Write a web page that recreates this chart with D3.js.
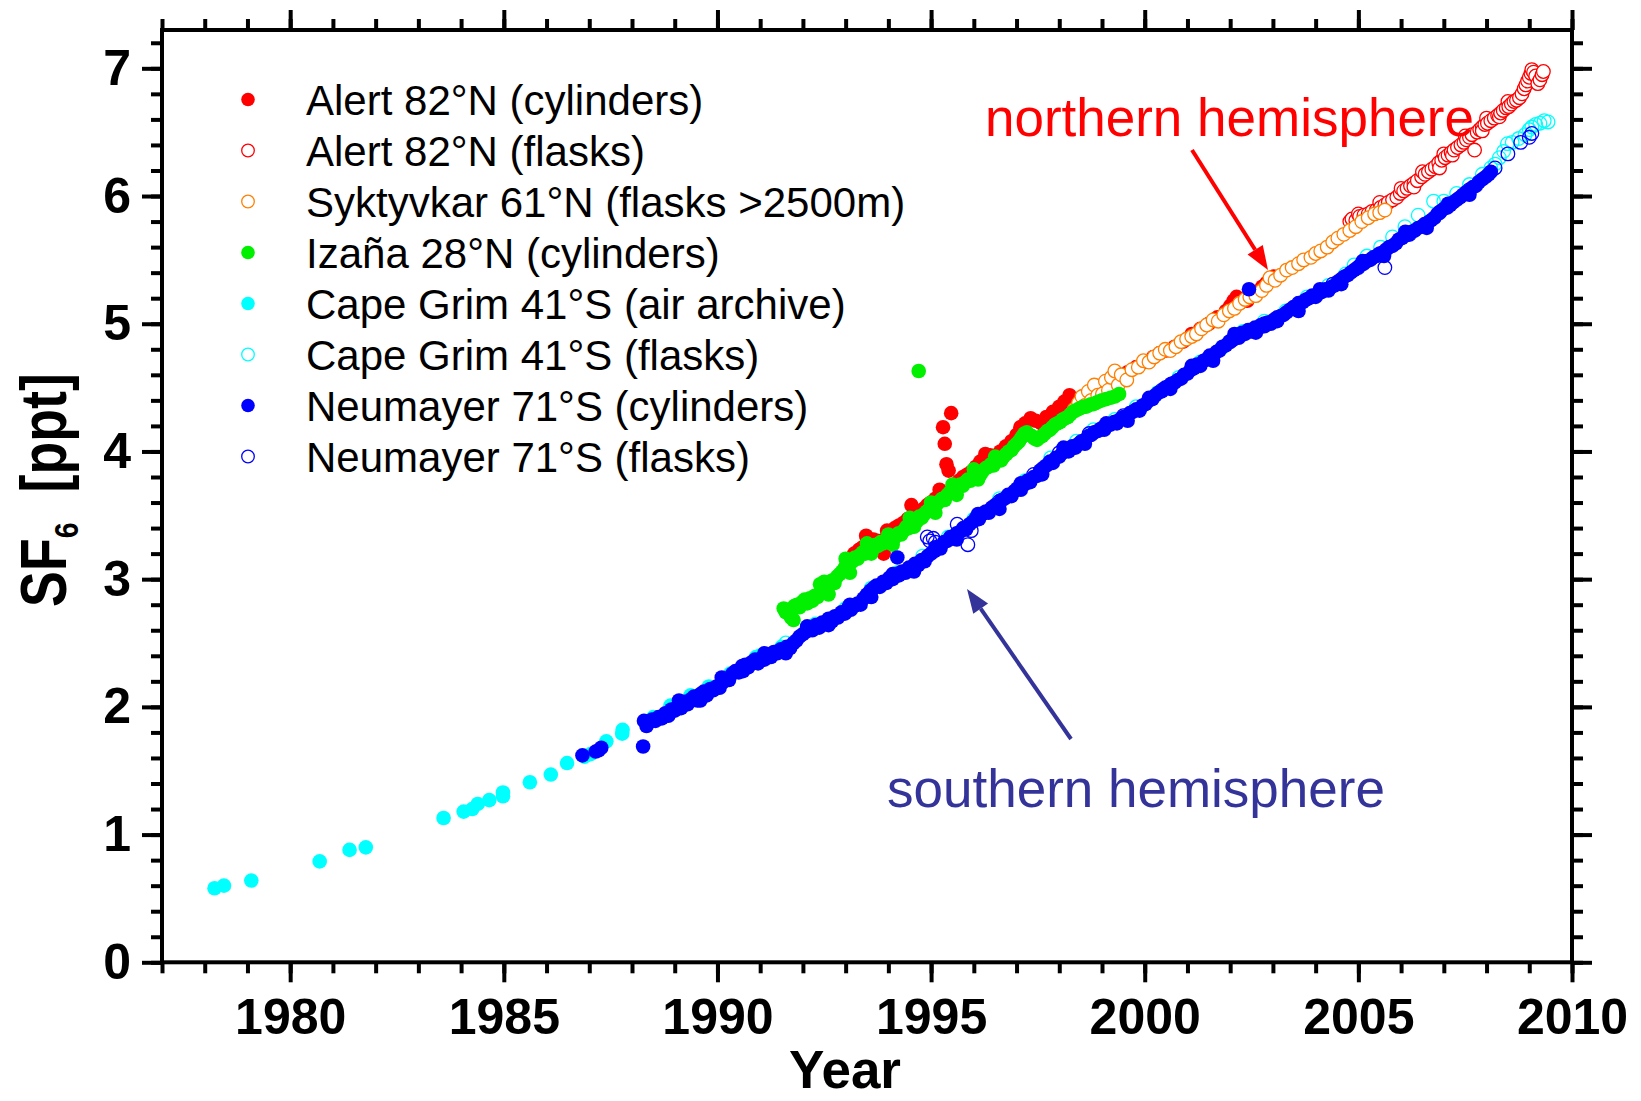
<!DOCTYPE html>
<html><head><meta charset="utf-8">
<script src="https://cdn.jsdelivr.net/npm/d3@7"></script>
<style>body{margin:0;background:#fff}svg{display:block}</style>
</head><body>
<svg id="chart" width="1641" height="1101"></svg>
<script>
// ---------------- DATA ([year, SF6 ppt]) ----------------
const alertCylinders = [[1993.20,3.20],[1993.31,3.23],[1993.40,3.25],[1993.48,3.34],[1993.56,3.28],[1993.65,3.31],[1993.75,3.30],[1993.89,3.20],[1993.97,3.38],[1994.05,3.36],[1994.15,3.40],[1994.25,3.42],[1994.35,3.44],[1994.45,3.47],[1994.54,3.58],[1994.62,3.50],[1994.72,3.53],[1994.82,3.55],[1994.91,3.58],[1995.00,3.60],[1995.10,3.63],[1995.20,3.70],[1995.28,4.19],[1995.32,4.06],[1995.36,3.90],[1995.41,3.85],[1995.47,4.30],[1995.55,3.74],[1995.65,3.77],[1995.75,3.80],[1995.85,3.82],[1995.94,3.84],[1996.05,3.88],[1996.15,3.92],[1996.27,3.98],[1996.38,3.97],[1996.50,3.96],[1996.62,4.00],[1996.75,4.04],[1996.88,4.08],[1997.00,4.13],[1997.09,4.19],[1997.20,4.22],[1997.33,4.26],[1997.45,4.24],[1997.58,4.22],[1997.70,4.27],[1997.85,4.31],[1998.00,4.35],[1998.12,4.39],[1998.24,4.44],[1998.40,4.40],[1998.55,4.43],[1998.70,4.46],[1998.85,4.49],[1999.00,4.52],[1999.20,4.55],[1999.40,4.58],[1999.60,4.62],[1999.80,4.66],[2000.00,4.70],[2000.20,4.74],[2000.35,4.77],[2000.50,4.79],[2000.70,4.82],[2000.90,4.86],[2001.10,4.92],[2001.30,4.96],[2001.50,5.00],[2001.70,5.05],[2001.90,5.10],[2002.00,5.14],[2002.08,5.18],[2002.15,5.21],[2002.22,5.16],[2002.30,5.19],[2002.40,5.18],[2002.50,5.22],[2002.62,5.25],[2002.75,5.29],[2002.85,5.32],[2002.93,5.34],[2003.02,5.37]];

const alertFlasks = [[2004.80,5.80],[2004.85,5.82],[2004.94,5.81],[2005.00,5.86],[2005.03,5.84],[2005.13,5.85],[2005.23,5.86],[2005.32,5.88],[2005.42,5.89],[2005.50,5.95],[2005.52,5.91],[2005.62,5.93],[2005.70,5.95],[2005.80,5.97],[2005.90,5.99],[2005.98,6.02],[2006.00,6.06],[2006.06,6.04],[2006.14,6.06],[2006.22,6.08],[2006.30,6.10],[2006.30,6.07],[2006.38,6.12],[2006.48,6.15],[2006.50,6.19],[2006.56,6.17],[2006.64,6.19],[2006.72,6.21],[2006.80,6.23],[2006.88,6.26],[2006.90,6.22],[2006.95,6.28],[2007.00,6.33],[2007.03,6.30],[2007.10,6.32],[2007.17,6.34],[2007.20,6.32],[2007.24,6.36],[2007.32,6.38],[2007.40,6.40],[2007.47,6.42],[2007.50,6.47],[2007.53,6.44],[2007.60,6.46],[2007.66,6.48],[2007.72,6.36],[2007.78,6.50],[2007.84,6.52],[2007.90,6.54],[2007.90,6.51],[2007.96,6.56],[2008.00,6.61],[2008.02,6.57],[2008.10,6.59],[2008.18,6.61],[2008.26,6.63],[2008.30,6.62],[2008.33,6.65],[2008.39,6.67],[2008.46,6.69],[2008.50,6.74],[2008.52,6.70],[2008.58,6.72],[2008.64,6.74],[2008.70,6.75],[2008.77,6.77],[2008.83,6.80],[2008.88,6.84],[2008.92,6.87],[2008.96,6.90],[2009.00,6.93],[2009.04,6.96],[2009.06,6.99],[2009.10,6.97],[2009.15,6.94],[2009.20,6.88],[2009.25,6.91],[2009.30,6.95],[2009.33,6.975]];

const syktyvkarFlasks = [[1998.35,4.33],[1998.45,4.38],[1998.53,4.43],[1998.60,4.36],[1998.68,4.47],[1998.75,4.40],[1998.82,4.52],[1998.90,4.44],[1999.01,4.45],[1999.08,4.55],[1999.15,4.48],[1999.22,4.58],[1999.30,4.63],[1999.38,4.52],[1999.45,4.60],[1999.58,4.56],[1999.70,4.64],[1999.85,4.66],[1999.97,4.71],[2000.10,4.70],[2000.22,4.74],[2000.35,4.77],[2000.48,4.80],[2000.60,4.79],[2000.73,4.82],[2000.85,4.86],[2000.98,4.88],[2001.10,4.90],[2001.21,4.92],[2001.33,4.96],[2001.45,4.99],[2001.60,5.03],[2001.72,5.02],[2001.85,5.07],[2001.98,5.10],[2002.10,5.12],[2002.22,5.16],[2002.35,5.19],[2002.46,5.21],[2002.60,5.22],[2002.74,5.26],[2002.85,5.30],[2002.93,5.36],[2003.05,5.34],[2003.18,5.38],[2003.32,5.42],[2003.45,5.44],[2003.60,5.47],[2003.72,5.50],[2003.89,5.52],[2004.00,5.55],[2004.12,5.57],[2004.27,5.60],[2004.40,5.64],[2004.52,5.67],[2004.66,5.70],[2004.80,5.73],[2004.94,5.76],[2005.08,5.80],[2005.23,5.83],[2005.38,5.86],[2005.50,5.87],[2005.62,5.89]];

const izanaCylinders = [[1991.55,2.77],[1991.60,2.74],[1991.66,2.76],[1991.72,2.70],[1991.78,2.68],[1991.80,2.79],[1991.86,2.80],[1991.92,2.78],[1991.98,2.82],[1992.04,2.84],[1992.10,2.81],[1992.16,2.85],[1992.22,2.83],[1992.28,2.87],[1992.34,2.86],[1992.40,2.96],[1992.44,2.93],[1992.50,2.90],[1992.50,2.98],[1992.56,2.92],[1992.60,2.88],[1992.62,2.95],[1992.68,2.99],[1992.74,2.97],[1992.80,3.02],[1992.86,3.04],[1992.92,3.06],[1992.98,3.09],[1993.00,3.16],[1993.04,3.08],[1993.10,3.05],[1993.10,3.12],[1993.16,3.14],[1993.22,3.17],[1993.28,3.16],[1993.34,3.19],[1993.40,3.21],[1993.46,3.20],[1993.50,3.28],[1993.52,3.23],[1993.58,3.25],[1993.60,3.20],[1993.64,3.24],[1993.70,3.27],[1993.76,3.26],[1993.82,3.29],[1993.88,3.28],[1993.94,3.30],[1994.00,3.29],[1994.00,3.35],[1994.06,3.32],[1994.10,3.27],[1994.12,3.31],[1994.18,3.34],[1994.24,3.36],[1994.30,3.35],[1994.36,3.38],[1994.42,3.41],[1994.48,3.40],[1994.50,3.48],[1994.54,3.44],[1994.60,3.46],[1994.60,3.41],[1994.66,3.45],[1994.71,4.63],[1994.72,3.49],[1994.78,3.48],[1994.84,3.51],[1994.90,3.53],[1994.96,3.55],[1995.00,3.60],[1995.02,3.54],[1995.08,3.57],[1995.10,3.52],[1995.14,3.59],[1995.20,3.61],[1995.26,3.63],[1995.32,3.62],[1995.38,3.66],[1995.44,3.68],[1995.50,3.70],[1995.50,3.74],[1995.56,3.69],[1995.60,3.66],[1995.62,3.72],[1995.68,3.74],[1995.74,3.73],[1995.80,3.76],[1995.86,3.78],[1995.92,3.77],[1995.98,3.80],[1996.00,3.86],[1996.04,3.81],[1996.10,3.83],[1996.10,3.78],[1996.16,3.82],[1996.22,3.85],[1996.28,3.87],[1996.34,3.88],[1996.40,3.90],[1996.46,3.89],[1996.50,3.96],[1996.52,3.92],[1996.58,3.94],[1996.64,3.93],[1996.70,3.96],[1996.76,3.98],[1996.82,4.00],[1996.88,4.01],[1996.94,4.04],[1997.00,4.06],[1997.06,4.08],[1997.12,4.11],[1997.18,4.14],[1997.24,4.15],[1997.30,4.13],[1997.36,4.12],[1997.42,4.10],[1997.48,4.09],[1997.54,4.11],[1997.60,4.12],[1997.66,4.14],[1997.72,4.16],[1997.78,4.17],[1997.84,4.19],[1997.90,4.21],[1997.96,4.22],[1998.02,4.23],[1998.08,4.25],[1998.14,4.26],[1998.20,4.27],[1998.26,4.29],[1998.32,4.31],[1998.38,4.32],[1998.44,4.33],[1998.50,4.34],[1998.56,4.35],[1998.62,4.35],[1998.68,4.36],[1998.74,4.37],[1998.80,4.37],[1998.86,4.38],[1998.92,4.39],[1999.00,4.40],[1999.10,4.41],[1999.20,4.42],[1999.30,4.43],[1999.40,4.45]];

const capeGrimArchive = [[1978.23,0.58],[1978.45,0.60],[1979.09,0.64],[1980.69,0.79],[1981.39,0.88],[1981.77,0.90],[1983.59,1.13],[1984.06,1.18],[1984.26,1.20],[1984.39,1.24],[1984.66,1.27],[1984.98,1.30],[1984.98,1.33],[1985.61,1.41],[1986.10,1.47],[1986.48,1.56],[1986.89,1.61],[1987.03,1.63],[1987.40,1.73],[1987.77,1.79],[1987.78,1.82],[1988.50,1.92],[1988.90,2.01],[1989.37,2.09],[1989.80,2.16],[1990.30,2.26],[1990.90,2.39],[1991.50,2.47]];

const capeGrimFlasks = [[1991.00,2.40],[1991.60,2.50],[1992.30,2.65],[1993.00,2.77],[1993.60,2.93],[1994.20,3.05],[1994.80,3.18],[1995.40,3.33],[1996.00,3.47],[1996.60,3.63],[1997.20,3.77],[1997.80,3.95],[1998.40,4.08],[1998.80,4.17],[1999.30,4.25],[1999.80,4.35],[2000.30,4.46],[2000.80,4.58],[2001.30,4.70],[2001.80,4.81],[2002.30,4.94],[2002.80,5.02],[2003.30,5.10],[2003.80,5.21],[2004.30,5.30],[2004.70,5.39],[2004.90,5.46],[2005.20,5.53],[2005.52,5.60],[2005.80,5.68],[2006.09,5.76],[2006.40,5.85],[2006.76,5.96],[2007.00,5.96],[2007.30,6.02],[2007.60,6.09],[2007.90,6.17],[2008.10,6.22],[2008.20,6.25],[2008.30,6.30],[2008.40,6.35],[2008.49,6.41],[2008.60,6.42],[2008.75,6.45],[2008.90,6.48],[2009.00,6.52],[2009.06,6.54],[2009.15,6.56],[2009.25,6.57],[2009.35,6.59],[2009.44,6.58]];

const neumayerCylinders = [[1986.84,1.62],[1987.15,1.65],[1987.22,1.66],[1987.28,1.68],[1988.26,1.69],
[1988.28,1.89],[1988.34,1.85],[1988.40,1.88],[1988.47,1.90],[1988.55,1.89],[1988.62,1.92],[1988.70,1.91],[1988.78,1.95],[1988.85,1.93],[1988.92,1.98],[1989.00,1.97],[1989.08,2.01],[1989.15,1.99],[1989.22,2.04],[1989.30,2.02],[1989.38,2.06],[1989.45,2.08],[1989.53,2.05],[1989.60,2.10],[1989.68,2.12],[1989.75,2.09],[1989.83,2.14],[1989.90,2.13],[1989.98,2.16],[1990.05,2.15],[1990.12,2.19],[1990.20,2.22],[1990.27,2.21],[1990.35,2.26],[1990.42,2.28],[1990.50,2.27],[1990.58,2.32],[1990.65,2.33],[1990.72,2.31],[1990.80,2.35],[1990.88,2.37],[1990.95,2.34],[1991.02,2.38],[1991.10,2.37],[1991.18,2.41],[1991.25,2.39],[1991.32,2.43],[1991.40,2.42],[1991.48,2.45],[1991.55,2.43],[1991.62,2.47],[1991.70,2.46],[1991.78,2.50],[1991.85,2.52],[1991.92,2.55],[1992.00,2.57],[1992.08,2.59],[1992.15,2.61],[1992.22,2.60],[1992.30,2.64],[1992.38,2.62],[1992.45,2.66],[1992.52,2.65],[1992.60,2.69],[1992.68,2.67],[1992.75,2.71],[1992.82,2.70],[1992.90,2.74],[1992.98,2.73],[1993.05,2.77],[1993.12,2.76],[1993.20,2.79],[1993.28,2.81],[1993.35,2.80],[1993.42,2.85],[1993.50,2.88],[1993.58,2.91],[1993.65,2.93],[1993.72,2.95],[1993.80,2.94],[1993.88,2.98],[1993.95,2.97],[1994.02,3.01],[1994.10,3.00],[1994.18,3.04],[1994.21,3.17],[1994.25,3.03],[1994.32,3.06],[1994.40,3.05],[1994.48,3.09],[1994.55,3.08],[1994.62,3.12],[1994.70,3.11],[1994.78,3.15],[1994.85,3.14],[1994.92,3.18],[1995.00,3.20],[1995.08,3.22],[1995.15,3.25],[1995.22,3.24],[1995.30,3.29],[1995.38,3.30],[1995.45,3.33],[1995.52,3.32],[1995.60,3.36],[1995.68,3.37],[1995.75,3.40],[1995.82,3.39],[1995.90,3.43],[1995.98,3.45],[1996.05,3.48],[1996.12,3.47],[1996.20,3.51],[1996.28,3.53],[1996.35,3.52],[1996.42,3.56],[1996.50,3.58],[1996.58,3.57],[1996.65,3.62],[1996.72,3.63],[1996.80,3.66],[1996.88,3.65],[1996.95,3.69],[1997.02,3.71],[1997.10,3.70],[1997.18,3.74],[1997.25,3.77],[1997.32,3.76],[1997.40,3.80],[1997.48,3.81],[1997.55,3.85],[1997.62,3.87],[1997.70,3.89],[1997.78,3.92],[1997.85,3.91],[1997.92,3.95],[1998.00,3.96],[1998.08,3.99],[1998.15,4.01],[1998.22,4.00],[1998.30,4.04],[1998.38,4.03],[1998.45,4.06],[1998.52,4.08],[1998.60,4.09],[1998.68,4.12],[1998.75,4.13],[1998.82,4.15],[1998.90,4.16],[1998.98,4.18],[1999.05,4.17],[1999.12,4.20],[1999.20,4.21],[1999.28,4.23],[1999.35,4.22],[1999.42,4.25],[1999.50,4.27],[1999.58,4.26],[1999.65,4.30],[1999.72,4.31],[1999.80,4.33],[1999.88,4.32],[1999.95,4.36],[2000.02,4.37],[2000.10,4.40],[2000.18,4.41],[2000.25,4.44],[2000.32,4.46],[2000.40,4.47],[2000.48,4.50],[2000.55,4.51],[2000.62,4.53],[2000.70,4.54],[2000.78,4.56],[2000.85,4.57],[2000.92,4.60],[2001.00,4.61],[2001.08,4.64],[2001.15,4.65],[2001.22,4.68],[2001.30,4.67],[2001.38,4.71],[2001.45,4.72],[2001.52,4.75],[2001.60,4.74],[2001.68,4.78],[2001.75,4.79],[2001.82,4.82],[2001.90,4.83],[2001.98,4.86],[2002.05,4.87],[2002.12,4.90],[2002.20,4.89],[2002.28,4.93],[2002.35,4.92],[2002.42,4.95],[2002.44,5.27],[2002.50,4.94],[2002.58,4.97],[2002.65,4.96],[2002.72,4.99],[2002.80,4.98],[2002.88,5.01],[2002.95,5.00],[2003.02,5.03],[2003.10,5.02],[2003.18,5.06],[2003.25,5.07],[2003.32,5.09],[2003.40,5.11],[2003.48,5.13],[2003.55,5.12],[2003.62,5.16],[2003.70,5.17],[2003.78,5.19],[2003.85,5.20],[2003.92,5.22],[2004.00,5.21],[2004.08,5.24],[2004.15,5.25],[2004.22,5.27],[2004.30,5.26],[2004.38,5.29],[2004.45,5.30],[2004.52,5.33],[2004.60,5.35],[2004.68,5.37],[2004.75,5.38],[2004.82,5.40],[2004.90,5.42],[2004.98,5.44],[2005.05,5.46],[2005.12,5.47],[2005.20,5.49],[2005.28,5.50],[2005.35,5.52],[2005.42,5.53],[2005.50,5.55],[2005.58,5.56],[2005.65,5.58],[2005.72,5.60],[2005.80,5.61],[2005.88,5.63],[2005.95,5.66],[2006.02,5.67],[2006.10,5.69],[2006.18,5.70],[2006.25,5.72],[2006.32,5.73],[2006.40,5.75],[2006.48,5.76],[2006.55,5.78],[2006.62,5.79],[2006.70,5.81],[2006.78,5.83],[2006.85,5.86],[2006.92,5.88],[2007.00,5.90],[2007.08,5.91],[2007.15,5.93],[2007.22,5.95],[2007.30,5.97],[2007.38,5.99],[2007.45,6.01],[2007.52,6.03],[2007.60,6.04],[2007.68,6.07],[2007.75,6.08],[2007.82,6.11],[2007.90,6.13],[2007.98,6.15],[2008.05,6.17],[2008.10,6.19],
[1989.10,2.05],[1989.60,2.05],[1990.10,2.23],[1990.60,2.28],[1991.10,2.42],[1991.60,2.42],[1992.10,2.63],[1992.60,2.64],[1993.10,2.80],[1993.60,2.86],[1994.10,3.04],[1994.60,3.06],[1995.10,3.25],[1995.60,3.31],[1996.10,3.51],[1996.60,3.55],[1997.10,3.75],[1997.60,3.82],[1998.10,4.03],[1998.60,4.06],[1999.10,4.22],[1999.60,4.24],[2000.10,4.42],[2000.60,4.49],[2001.10,4.67],[2001.60,4.71],[2002.10,4.92],[2002.60,4.93],[2003.10,5.05],[2003.60,5.10],[2004.10,5.27],[2004.60,5.31],[2005.10,5.49],[2005.60,5.53],[2006.10,5.72],[2006.60,5.75],[2007.10,5.94],[2007.60,6.01]];

const neumayerFlasks = [[1994.91,3.33],[1994.97,3.30],[1995.05,3.32],[1995.10,3.29],[1995.61,3.43],[1995.86,3.27],[1995.94,3.38],[1996.60,3.61],[1997.40,3.82],[1998.00,3.99],[1998.70,4.14],[1999.50,4.28],[2000.40,4.48],[2001.20,4.67],[2002.00,4.86],[2002.80,5.00],[2003.60,5.16],[2004.40,5.31],[2005.00,5.44],[2005.62,5.44],[2006.20,5.70],[2006.90,5.87],[2007.60,6.05],[2008.20,6.22],[2008.50,6.33],[2008.80,6.42],[2009.00,6.46],[2009.06,6.49]];

const seriesNames = ["Alert 82°N (cylinders)","Alert 82°N (flasks)","Syktyvkar 61°N (flasks >2500m)","Izaña 28°N (cylinders)","Cape Grim 41°S (air archive)","Cape Grim 41°S (flasks)","Neumayer 71°S (cylinders)","Neumayer 71°S (flasks)"];
const seriesData = [alertCylinders, alertFlasks, syktyvkarFlasks, izanaCylinders, capeGrimArchive, capeGrimFlasks, neumayerCylinders, neumayerFlasks];
const seriesColors = ["#ff0000","#ff0000","#ff8000","#00f000","#00ffff","#00ffff","#0000ff","#0000ff"];
const seriesFilled = [true,false,false,true,true,false,true,false];
const openFill = ["none","#fff","#fff","none","none","none","none","none"];

const xMajorTicks = [1980,1985,1990,1995,2000,2005,2010];
const yMajorTicks = [0,1,2,3,4,5,6,7];

// ---------------- CHART ----------------
const FONT = '"Liberation Sans", Arial, Helvetica, sans-serif';
const svg = d3.select("#chart").style("font-family", FONT);
const x = d3.scaleLinear().domain([1977, 2010]).range([162, 1572]);
const y = d3.scaleLinear().domain([0, 7.3]).range([962.3, 30]);
const xMinor = d3.range(1977, 2011, 1);
const yMinor = d3.range(0, 7.3, 0.2).map(v => +v.toFixed(1));

// points
seriesData.forEach((data, i) => {
  const g = svg.append("g");
  g.selectAll("circle").data(data).join("circle")
    .attr("cx", d => x(d[0])).attr("cy", d => y(d[1]))
    .attr("r", seriesFilled[i] ? 7.3 : 6.8)
    .attr("fill", seriesFilled[i] ? seriesColors[i] : openFill[i])
    .attr("stroke", seriesFilled[i] ? "none" : seriesColors[i])
    .attr("stroke-width", 1.3);
});

// axes
function styleAxis(g) {
  g.select(".domain").remove();
  g.selectAll(".tick line").attr("stroke", "#000").attr("stroke-width", 4);
  g.selectAll("text").attr("font-family", FONT).attr("font-weight", "bold").attr("font-size", 50).attr("fill", "#000");
}
const X0 = x.range()[0], X1 = x.range()[1], Y0 = y.range()[0], Y1 = y.range()[1];
svg.append("g").attr("transform", `translate(0,${Y0})`).call(d3.axisBottom(x).tickValues(xMinor).tickSize(11).tickFormat("")).call(styleAxis);
svg.append("g").attr("transform", `translate(0,${Y0})`).call(d3.axisBottom(x).tickValues(xMajorTicks).tickSize(20).tickPadding(16).tickFormat(d3.format("d"))).call(styleAxis);
svg.append("g").attr("transform", `translate(0,${Y1})`).call(d3.axisTop(x).tickValues(xMinor).tickSize(11).tickFormat("")).call(styleAxis);
svg.append("g").attr("transform", `translate(0,${Y1})`).call(d3.axisTop(x).tickValues(xMajorTicks).tickSize(20).tickFormat("")).call(styleAxis);
svg.append("g").attr("transform", `translate(${X0},0)`).call(d3.axisLeft(y).tickValues(yMinor).tickSize(11).tickFormat("")).call(styleAxis);
svg.append("g").attr("transform", `translate(${X0},0)`).call(d3.axisLeft(y).tickValues(yMajorTicks).tickSize(20).tickPadding(11).tickFormat(d3.format("d"))).call(styleAxis);
svg.append("g").attr("transform", `translate(${X1},0)`).call(d3.axisRight(y).tickValues(yMinor).tickSize(11).tickFormat("")).call(styleAxis);
svg.append("g").attr("transform", `translate(${X1},0)`).call(d3.axisRight(y).tickValues(yMajorTicks).tickSize(20).tickFormat("")).call(styleAxis);

svg.append("rect").attr("x", X0).attr("y", Y1).attr("width", X1 - X0).attr("height", Y0 - Y1)
  .attr("fill", "none").attr("stroke", "#000").attr("stroke-width", 4);

// axis titles
svg.append("text").attr("x", 845).attr("y", 1088).attr("text-anchor", "middle")
  .attr("font-weight", "bold").attr("font-size", 53).text("Year");
const yt = svg.append("text").attr("transform", "translate(66,490) rotate(-90) scale(0.84,1)")
  .attr("text-anchor", "middle").attr("font-weight", "bold").attr("font-size", 64);
yt.append("tspan").text("SF");
yt.append("tspan").attr("font-size", 34).attr("dy", 12).text("6");
yt.append("tspan").attr("dy", -12).text("\u00a0\u00a0[ppt]");

// legend
seriesNames.forEach((name, i) => {
  const ly = 99.5 + i * 51;
  svg.append("circle").attr("cx", 248).attr("cy", ly)
    .attr("r", seriesFilled[i] ? 6.8 : 6.3)
    .attr("fill", seriesFilled[i] ? seriesColors[i] : "none")
    .attr("stroke", seriesFilled[i] ? "none" : seriesColors[i]).attr("stroke-width", 1.3);
  svg.append("text").attr("x", 306).attr("y", ly + 15).attr("font-size", 42).attr("fill", "#000").text(name);
});

// annotations
function arrow(x1, y1, x2, y2, color) {
  const ang = Math.atan2(y2 - y1, x2 - x1), L = 24, Wd = 9;
  const bx = x2 - L * Math.cos(ang), by = y2 - L * Math.sin(ang);
  svg.append("line").attr("x1", x1).attr("y1", y1).attr("x2", bx).attr("y2", by)
    .attr("stroke", color).attr("stroke-width", 4);
  const p = [[x2, y2], [bx + Wd * Math.sin(ang), by - Wd * Math.cos(ang)], [bx - Wd * Math.sin(ang), by + Wd * Math.cos(ang)]];
  svg.append("polygon").attr("points", p.map(q => q.join(",")).join(" ")).attr("fill", color);
}
svg.append("text").attr("x", 1474).attr("y", 136).attr("text-anchor", "end").attr("font-size", 53)
  .attr("fill", "#ff0000").text("northern hemisphere");
arrow(1192, 150, 1268, 270, "#ff0000");
svg.append("text").attr("x", 887).attr("y", 807).attr("font-size", 53)
  .attr("fill", "#333399").text("southern hemisphere");
arrow(1071, 739, 967, 589, "#333399");
</script>
</body></html>
